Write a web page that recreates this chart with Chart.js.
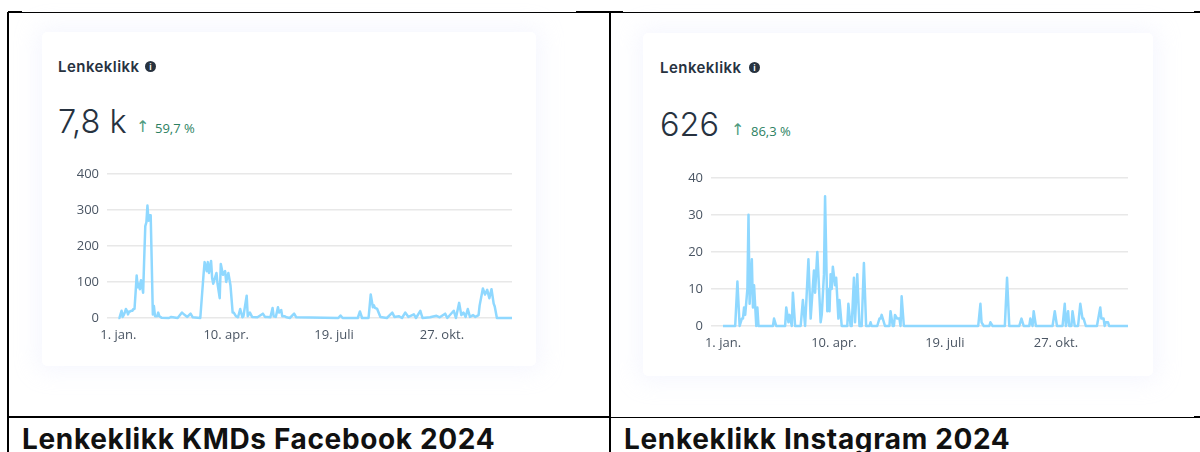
<!DOCTYPE html>
<html><head><meta charset="utf-8">
<script src="https://cdn.jsdelivr.net/npm/chart.js@4"></script>
<style>
html,body{margin:0;padding:0;background:#fff;overflow:hidden}
body{position:relative;width:1200px;height:452px}
.a{position:absolute;white-space:nowrap}
.ln{position:absolute;background:#000}
.card{position:absolute;background:#fff;border-radius:5px;box-shadow:0 0 22px 6px rgba(222,226,250,.28)}
.h{font:600 15px Inter,sans-serif;color:#27323f;line-height:18px;letter-spacing:.45px}
.big{font:300 32.5px Inter,sans-serif;color:#27323f;line-height:40px}
.pct{font:400 13px "Open Sans",sans-serif;color:#2c7f62;line-height:16px}
.arr{font:400 16px "DejaVu Sans",sans-serif;color:#4f9c80;line-height:16px}
.cap{font:700 28px Inter,sans-serif;color:#111;line-height:34px;letter-spacing:.65px}
.ic{position:absolute;width:11px;height:11px;border-radius:50%;background:#27323f;color:#fff;font:700 8px/11px "Open Sans",sans-serif;text-align:center}
canvas{position:absolute}
</style></head><body>
<div class="ln" style="left:8px;top:12px;width:1192px;height:1px"></div>
<div class="ln" style="left:8px;top:11px;width:14px;height:2px"></div>
<div class="ln" style="left:576px;top:11px;width:47px;height:2px"></div>
<div class="ln" style="left:1194px;top:11px;width:6px;height:2px"></div>
<div class="ln" style="left:7px;top:12px;width:2px;height:440px"></div>
<div class="ln" style="left:609px;top:12px;width:2px;height:440px"></div>
<div class="ln" style="left:7px;top:416px;width:604px;height:2px"></div>
<div class="ln" style="left:611px;top:417px;width:589px;height:1px"></div>
<div class="ln" style="left:1194px;top:416px;width:6px;height:2px"></div>

<div class="card" style="left:42px;top:32px;width:494px;height:334px"></div>
<div class="card" style="left:643px;top:33px;width:510px;height:343px"></div>

<div class="a h" style="left:58px;top:58px">Lenkeklikk</div><div class="ic" style="left:145px;top:61px">i</div>
<div class="a big" style="left:58px;top:102px">7,8 k</div>
<div class="a arr" style="left:136px;top:119px">↑</div><div class="a pct" style="left:155px;top:120px">59,7 %</div>

<div class="a h" style="left:660px;top:59px">Lenkeklikk</div><div class="ic" style="left:749px;top:62px">i</div>
<div class="a big" style="left:660px;top:105px">626</div>
<div class="a arr" style="left:731px;top:122px">↑</div><div class="a pct" style="left:751px;top:123px">86,3 %</div>

<div class="a cap" style="left:22px;top:422px">Lenkeklikk KMDs Facebook 2024</div>
<div class="a cap" style="left:624px;top:422px">Lenkeklikk Instagram 2024</div>

<canvas id="fb" style="left:60px;top:158px"></canvas>
<canvas id="ig" style="left:664px;top:162px"></canvas>

<script>
const tickDays=[1,101,201,301];
const tickLabels=["1. jan.","10. apr.","19. juli","27. okt."];
const fbYTicks=[0,100,200,300,400];
const igYTicks=[0,10,20,30,40];
const fbDays=[1,2,3,4,5,6,7,8,9,10,11,12,13,14,15,16,17,18,19,20,21,22,23,24,25,26,27,28,29,30,31,32,33,34,35,37,38,39,41,48,50,56,60,62,65,68,70,77,80,81,83,84,85,87,88,89,90,92,93,95,96,98,100,101,103,105,107,108,110,112,114,116,117,120,121,123,125,130,135,137,139,142,144,145,147,149,150,152,153,155,157,160,164,166,205,207,209,223,225,227,233,235,237,238,239,241,244,250,255,257,261,264,267,270,275,277,281,283,290,296,299,304,306,312,314,317,319,321,323,325,327,330,332,335,336,339,341,343,345,347,349,350,352,366];
const fbClicks=[0,0,10,20,3,8,15,25,20,10,18,18,20,20,25,25,70,118,85,95,80,105,90,70,165,255,265,312,270,285,285,150,10,33,5,5,15,5,1,0,3,0,15,10,3,12,2,0,120,155,130,155,125,158,110,95,105,125,95,55,150,120,130,100,125,90,15,15,5,2,25,2,5,62,5,15,3,2,12,3,3,2,28,5,3,30,15,22,5,5,2,0,12,2,0,7,0,0,18,0,0,65,30,35,28,25,3,0,15,3,5,0,15,3,10,0,20,0,2,6,2,12,0,20,0,42,8,15,3,25,3,8,3,8,35,82,65,78,55,80,40,32,0,0];
const igDays=[1,12,14,16,18,19,20,21,23,24,25,27,28,29,31,32,33,35,46,47,49,57,58,60,61,63,64,66,71,73,75,78,80,83,84,86,89,90,92,93,95,96,97,98,99,100,102,103,105,106,108,113,114,116,117,119,120,122,124,126,128,130,133,134,135,140,142,143,144,147,151,152,154,155,156,158,160,161,162,164,231,233,234,236,241,242,244,255,257,259,268,270,272,277,278,280,281,283,298,300,302,307,309,310,312,313,315,316,318,321,323,325,326,328,338,341,342,344,345,346,348,349,366];
const igClicks=[0,0,12,0,2,2,5,3,10,30,6,18,5,11,0,5,0,0,0,2,0,0,5,1,3,0,9,0,0,7,0,18,2,15,9,20,1,3,14,35,4,10,4,14,10,16,11,13,2,7,0,0,6,0,0,13,1,14,0,0,17,0,0,1,0,0,2,2,3,0,0,4,0,0,3,2,2,0,8,0,0,6,1,0,0,1,0,0,13,0,0,2,0,0,2,0,4,0,0,4,0,0,6,0,4,0,0,4,0,0,6,2,2,0,0,5,2,2,0,1,1,0,0];

function draw(id,w,h,days,vals,yTicks,gridLeft,padTop,xMin,axisH){
  const cv=document.getElementById(id);cv.width=w;cv.height=h;cv.style.width=w+'px';cv.style.height=h+'px';
  new Chart(cv,{type:'line',
    data:{datasets:[{data:days.map((d,i)=>({x:d,y:vals[i]})),borderColor:'#8fd8ff',borderWidth:2.5,borderJoinStyle:'round',pointRadius:0,tension:0,fill:false,clip:false}]},
    options:{responsive:false,animation:false,
      layout:{padding:{top:padTop,right:8,left:0,bottom:0}},
      plugins:{legend:{display:false},tooltip:{enabled:false}},
      scales:{
        x:{type:'linear',min:xMin,max:366,
          afterBuildTicks(s){s.ticks=tickDays.map(v=>({value:v}));},
          afterFit(s){s.height=axisH;},
          ticks:{autoSkip:false,maxRotation:0,padding:1,color:'#4a5563',font:{family:'"Open Sans"',size:13},
            callback:v=>tickLabels[tickDays.indexOf(v)]},
          grid:{display:false},border:{display:false}},
        y:{min:yTicks[0],max:yTicks[yTicks.length-1],
          afterBuildTicks(s){s.ticks=yTicks.map(v=>({value:v}));},
          afterFit(s){s.width=gridLeft;},
          ticks:{padding:8,color:'#4a5563',font:{family:'"Open Sans"',size:13}},
          grid:{color:'#e8e8e8',lineWidth:1.4,drawTicks:false},border:{display:false}}
      }}});
}
draw('fb',460,197,fbDays,fbClicks,fbYTicks,47,1,-9.5,37);
draw('ig',472,197,igDays,igClicks,igYTicks,47,1,-9.8,33);
</script>
</body></html>
